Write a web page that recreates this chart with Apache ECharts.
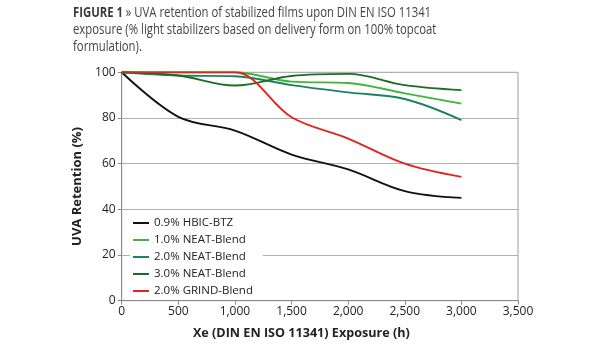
<!DOCTYPE html>
<html><head><meta charset="utf-8">
<script src="https://cdn.jsdelivr.net/npm/echarts@6/dist/echarts.min.js"></script>
<style>html,body{margin:0;padding:0;background:#fff}#c{width:615px;height:350px}</style>
</head><body><div id="c"></div>
<script>
const hours = [0, 500, 1000, 1500, 2000, 2500, 3000];
const hbicBtz = [100, 80.5, 74.5, 64, 57.5, 48, 45];
const neat10 = [100, 100, 100, 95.9, 95.3, 90.8, 86.3];
const neat20 = [100, 98.6, 98.3, 94.4, 91.2, 88.3, 79.1];
const neat30 = [100, 98.6, 94.2, 98.4, 99.3, 94.4, 92.2];
const grind20 = [100, 100, 100, 80.3, 71, 60, 54.2];
const seriesNames = ['0.9% HBIC-BTZ', '1.0% NEAT-Blend', '2.0% NEAT-Blend', '3.0% NEAT-Blend', '2.0% GRIND-Blend'];
const xTicks = [0, 500, 1000, 1500, 2000, 2500, 3000, 3500];
const yTicks = [0, 20, 40, 60, 80, 100];

const colors = ['#111111', '#3fb53a', '#1b8262', '#1c6e26', '#e3231f'];
const allData = [hbicBtz, neat10, neat20, neat30, grind20];
const font = '"Open Sans", "Noto Sans", sans-serif';

const chart = echarts.init(document.getElementById('c'), null, {renderer: 'canvas'});
chart.setOption({
  animation: false,
  backgroundColor: '#fff',
  grid: {left: 121.7, right: 97, top: 72.3, bottom: 49.3, show: true, borderColor: '#9a9a9a', borderWidth: 1},
  graphic: [
    {type: 'text', x: 73, y: 5, scaleX: 0.81, originX: 0, originY: 0,
      style: {rich: {b: {fontWeight: 'bold', fontSize: 14, fontFamily: font, fill: '#3a3a3a'}, n: {fontSize: 14, fontFamily: font, fill: '#444'}},
      text: '{b|FIGURE 1} {n|» UVA retention of stabilized films upon DIN EN ISO 11341}\n{n|exposure (% light stabilizers based on delivery form on 100% topcoat}\n{n|formulation).}', lineHeight: 17}},
  ],
  legend: {
    orient: 'vertical', left: 130, top: 215, itemGap: 5, itemWidth: 16, itemHeight: 2,
    backgroundColor: '#fff', padding: [2, 10, 2, 3],
    icon: 'rect',
    textStyle: {fontFamily: font, fontSize: 11.5, color: '#222', padding: [0, 0, 0, 0]},
    data: seriesNames
  },
  xAxis: {
    type: 'value', min: 0, max: 3500, interval: 500,
    name: 'Xe (DIN EN ISO 11341) Exposure (h)', nameLocation: 'middle', nameGap: 26,
    nameTextStyle: {fontFamily: font, fontWeight: 'bold', fontSize: 12.6, color: '#222', padding: [0, 37, 0, 0]},
    axisLine: {lineStyle: {color: '#8a8a8a', width: 1}},
    axisTick: {show: true, length: 4, lineStyle: {color: '#8a8a8a'}},
    axisLabel: {fontFamily: font, fontSize: 12, color: '#222', margin: 5,
      formatter: v => xTicks.includes(v) ? v.toLocaleString('en-US') : ''},
    splitLine: {show: false}
  },
  yAxis: {
    type: 'value', min: 0, max: 100, interval: 20,
    name: 'UVA Retention (%)', nameLocation: 'middle', nameGap: 23,
    nameTextStyle: {fontFamily: font, fontWeight: 'bold', fontSize: 13, color: '#222', padding: [0, 0, 0, 0]},
    axisLine: {show: true, lineStyle: {color: '#8a8a8a', width: 1}},
    axisTick: {show: true, length: 4, lineStyle: {color: '#8a8a8a'}},
    axisLabel: {fontFamily: font, fontSize: 12, color: '#222', margin: 6,
      formatter: v => yTicks.includes(v) ? String(v) : ''},
    splitLine: {show: true, lineStyle: {color: '#b0b0b0', width: 1}}
  },
  series: seriesNames.map((n, i) => ({
    name: n, type: 'line', smooth: 0.35, showSymbol: false, symbol: 'none',
    lineStyle: {width: 1.9, color: colors[i]}, itemStyle: {color: colors[i]},
    data: hours.map((h, j) => [h, allData[i][j]])
  }))
});
</script></body></html>
